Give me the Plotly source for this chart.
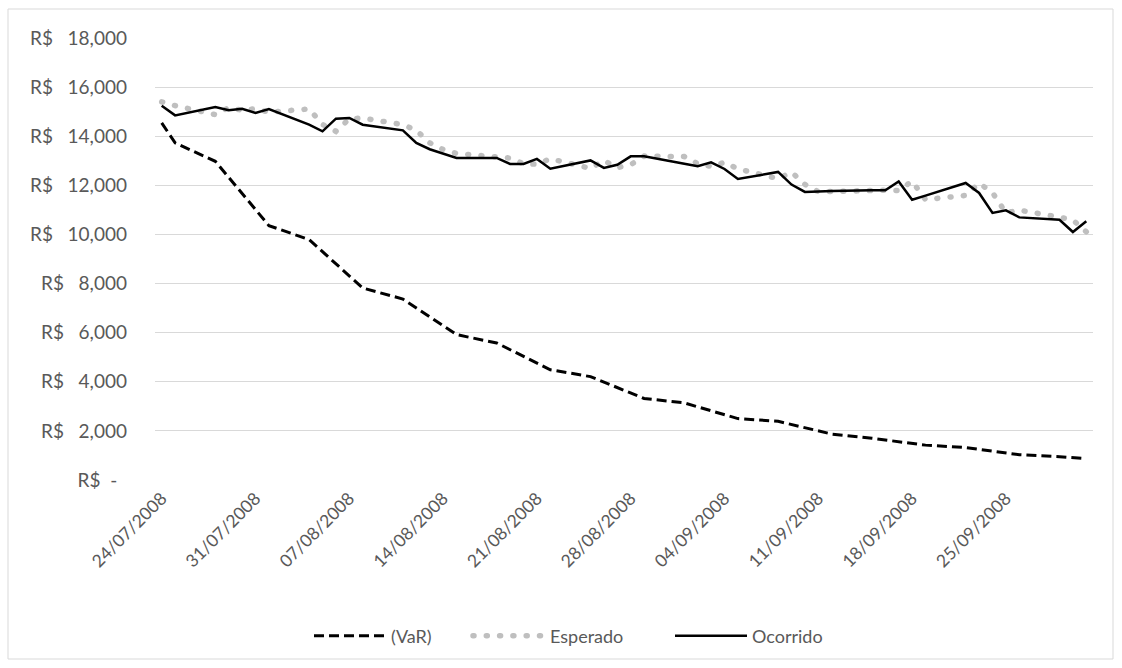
import plotly.graph_objects as go

# ---------------- data ----------------
dates = [
    "2008-07-24", "2008-07-25", "2008-07-28", "2008-07-29", "2008-07-30", "2008-07-31",
    "2008-08-01", "2008-08-04", "2008-08-05", "2008-08-06", "2008-08-07", "2008-08-08",
    "2008-08-11", "2008-08-12", "2008-08-13", "2008-08-14", "2008-08-15",
    "2008-08-18", "2008-08-19", "2008-08-20", "2008-08-21", "2008-08-22",
    "2008-08-25", "2008-08-26", "2008-08-27", "2008-08-28", "2008-08-29",
    "2008-09-01", "2008-09-02", "2008-09-03", "2008-09-04", "2008-09-05",
    "2008-09-08", "2008-09-09", "2008-09-10", "2008-09-11", "2008-09-12",
    "2008-09-15", "2008-09-16", "2008-09-17", "2008-09-18", "2008-09-19",
    "2008-09-22", "2008-09-23", "2008-09-24", "2008-09-25", "2008-09-26",
    "2008-09-29", "2008-09-30", "2008-10-01",
]

var_vals = [
    14540, 13730, 12980, 12330, 11670, 11010,
    10360, 9790, 9300, 8800, 8310, 7820,
    7370, 7010, 6640, 6280, 5920,
    5580, 5310, 5040, 4760, 4490,
    4210, 3990, 3770, 3550, 3320,
    3140, 2980, 2820, 2660, 2500,
    2390, 2260, 2130, 2000, 1870,
    1700, 1630, 1560, 1490, 1420,
    1320, 1250, 1170, 1100, 1030,
    950, 910, 870,
]

esperado = [
    15400, 15245, 14880, 15160, 15060, 15120,
    14980, 15110, 14480, 14200, 14710, 14740,
    14470, 14240, 13730, 13460, 13300,
    13120, 13110, 12880, 12860, 13080,
    12690, 13010, 12720, 12840, 13190,
    13170, 12880, 12770, 12940, 12670,
    12270, 12540, 12040, 11740, 11760,
    11770, 11800, 11790, 12170, 11420,
    11590, 12090, 11700, 10880, 10990,
    10700, 10590, 10110,
]

ocorrido = [
    15245, 14850, 15190, 15055, 15120, 14950,
    15110, 14470, 14200, 14715, 14745, 14470,
    14240, 13725, 13470, 13290, 13115,
    13115, 12870, 12870, 13075, 12680,
    13015, 12710, 12840, 13180, 13180,
    12875, 12775, 12935, 12665, 12260,
    12545, 12030, 11730, 11750, 11770,
    11795, 11795, 12160, 11415, 11580,
    12095, 11690, 10875, 10980, 10695,
    10600, 10100, 10535,
]

tick_dates = [
    "2008-07-24", "2008-07-31", "2008-08-07", "2008-08-14", "2008-08-21",
    "2008-08-28", "2008-09-04", "2008-09-11", "2008-09-18", "2008-09-25",
]
tick_labels = [
    "24/07/2008", "31/07/2008", "07/08/2008", "14/08/2008", "21/08/2008",
    "28/08/2008", "04/09/2008", "11/09/2008", "18/09/2008", "25/09/2008",
]

NB = "\u00a0"
y_ticks = [0, 2000, 4000, 6000, 8000, 10000, 12000, 14000, 16000, 18000]
y_labels = [
    "R$" + NB * 2 + "-" + NB * 2, "R$" + NB * 3 + "2,000", "R$" + NB * 3 + "4,000",
    "R$" + NB * 3 + "6,000", "R$" + NB * 3 + "8,000", "R$" + NB * 3 + "10,000",
    "R$" + NB * 3 + "12,000", "R$" + NB * 3 + "14,000", "R$" + NB * 3 + "16,000",
    "R$" + NB * 3 + "18,000",
]

series_names = ["(VaR)", "Esperado", "Ocorrido"]

# ---------------- figure ----------------
FONT = "Lato, Carlito, Calibri, 'Open Sans', sans-serif"
TXT = "#595959"
GRID = "#D9D9D9"

fig = go.Figure()
fig.add_trace(go.Scatter(
    x=dates, y=var_vals, name=series_names[0], mode="lines", legend="legend",
    line=dict(color="#000000", width=3, dash="10px,5px"),
))
fig.add_trace(go.Scatter(
    x=dates, y=esperado, name=series_names[1], mode="lines", legend="legend2",
    line=dict(color="#BFBFBF", width=5.5, dash="1px,12.3px"),
))
fig.add_trace(go.Scatter(
    x=dates, y=ocorrido, name=series_names[2], mode="lines", legend="legend3",
    line=dict(color="#000000", width=2.5),
))

W, H = 1122, 668
L, R, T, B = 155, 29, 38, 188
pw, ph = W - L - R, H - T - B


def px_x(p):
    return (p - L) / pw


def px_y(p):
    return (H - B - p) / ph


def leg(x_px):
    return dict(
        orientation="h", x=px_x(x_px), xanchor="left",
        y=px_y(636), yanchor="middle",
        font=dict(family=FONT, size=18, color=TXT),
        itemwidth=72, bgcolor="rgba(0,0,0,0)", borderwidth=0,
    )


fig.update_layout(
    width=W, height=H,
    margin=dict(l=L, r=R, t=T, b=B, pad=0),
    paper_bgcolor="white", plot_bgcolor="white",
    font=dict(family=FONT, size=19, color=TXT),
    showlegend=True,
    hovermode=False,
    legend=leg(309),
    legend2=leg(468),
    legend3=leg(670),
    xaxis=dict(
        type="date",
        range=["2008-07-23 12:00", "2008-10-01 12:00"],
        tickvals=tick_dates, ticktext=tick_labels,
        tickangle=-45, showgrid=False, zeroline=False,
        showline=False, ticks="", ticklabelstandoff=4,
        tickfont=dict(family=FONT, size=17.5, color=TXT),
        fixedrange=True,
    ),
    yaxis=dict(
        range=[0, 18000], tickvals=y_ticks, ticktext=y_labels,
        showgrid=True, gridcolor=GRID, gridwidth=1.3,
        zeroline=False, showline=False, ticks="",
        ticklabelstandoff=27,
        tickfont=dict(family=FONT, size=19, color=TXT),
        fixedrange=True,
    ),
    shapes=[dict(
        type="rect", xref="paper", yref="paper",
        x0=px_x(8), x1=px_x(1113), y0=px_y(659), y1=px_y(9),
        line=dict(color="#D9D9D9", width=1), fillcolor="rgba(0,0,0,0)",
        layer="below",
    )],
)

post = """
document.body.style.margin = '0';
document.body.style.padding = '0';
var gd = document.getElementById('{plot_id}');
function roundDots(){
  gd.querySelectorAll('path').forEach(function(p){
    var s = (p.style.stroke || '').replace(/\\s/g, '');
    if (s === 'rgb(191,191,191)') { p.style.strokeLinecap = 'round'; }
  });
}
roundDots();
if (gd.on) { gd.on('plotly_afterplot', roundDots); }
"""

fig.write_html("out.html", post_script=post,
               config={"displayModeBar": False, "staticPlot": False})
